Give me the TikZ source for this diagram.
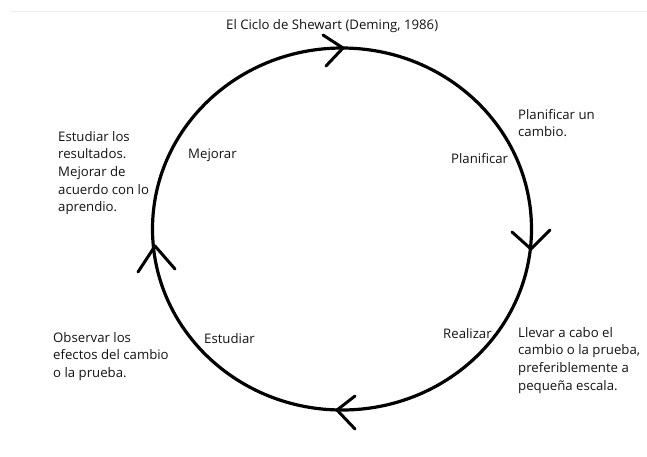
\documentclass[tikz,border=0pt]{standalone}
\usepackage{fontspec}
\setmainfont{Open Sans}
\begin{document}
\begin{tikzpicture}[x=1pt,y=-1pt,
  txt/.style={anchor=north west,inner sep=0pt,align=left,text=black!92,
    font=\fontsize{13.2}{17.6}\selectfont},
  arm/.style={draw=black,line width=3pt,line cap=round,line join=round}]
\useasboundingbox (0,0) rectangle (647,456);
\fill[white] (0,0) rectangle (647,456);
\coordinate (L1) at (10,11);
\coordinate (L2) at (647,11);
\draw[black!7,line width=1pt] (L1) -- (L2);
% cycle
\draw[draw=black,line width=3.2pt] (342,229) ellipse [x radius=189.5pt, y radius=181pt];
\coordinate (tT) at (343,48);
\coordinate (tR) at (531,249);
\coordinate (tB) at (337,410);
\coordinate (tL) at (155,246);
\draw[arm] ([shift={(-20,-13)}]tT) -- (tT) -- ([shift={(-17,18)}]tT);
\draw[arm] ([shift={(-19,-17)}]tR) -- (tR) -- ([shift={(19,-19)}]tR);
\draw[arm] ([shift={(18,-14)}]tB) -- (tB) -- ([shift={(18,19)}]tB);
\draw[arm] ([shift={(-17,26)}]tL) -- (tL) -- ([shift={(20,23)}]tL);
% texts
\node[txt] (title) at (226,19) {El Ciclo de Shewart (Deming, 1986)};
\node[txt] (pdesc) at (518,109) {Planificar un\\cambio.};
\node[txt] (plan) at (451,153) {Planificar};
\node[txt] (mdesc) at (58,131) {Estudiar los\\resultados.\\Mejorar de\\acuerdo con lo\\aprendio.};
\node[txt] (mej) at (188,149) {Mejorar};
\node[txt] (odesc) at (53,332) {Observar los\\efectos del cambio\\o la prueba.};
\node[txt] (est) at (204,333) {Estudiar};
\node[txt] (real) at (443,328) {Realizar};
\node[txt] (ldesc) at (518,327) {Llevar a cabo el\\cambio o la prueba,\\preferiblemente a\\pequeña escala.};
\end{tikzpicture}
\end{document}
